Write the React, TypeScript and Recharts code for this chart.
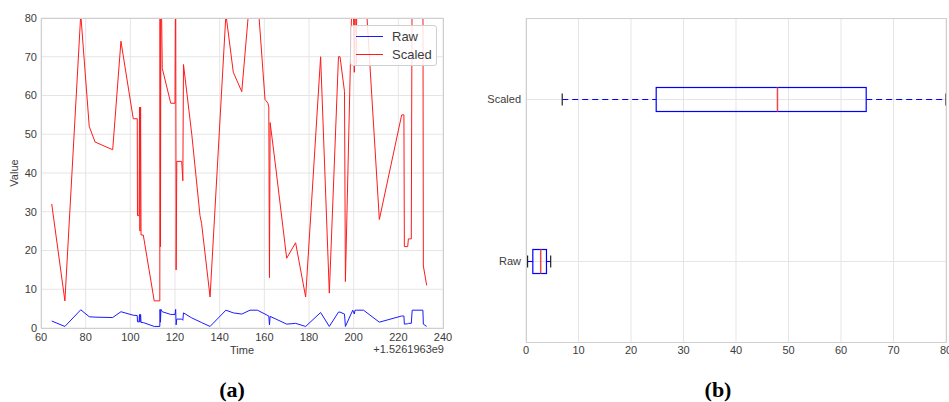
import React from 'react'
import { LineChart, Line, XAxis, YAxis, CartesianGrid, ComposedChart, Bar } from 'recharts'

// time offset from 1.5261963e9 (seconds)
const time = [
  64.8, 70.7, 77.8, 81.6, 84.2, 92.1, 95.8, 101.3, 103.1, 103.2, 103.9, 104.1, 104.3, 104.6, 104.8, 105.8,
  110.7, 113.2, 113.3, 113.5, 113.7, 114.3, 118.1, 120.0, 120.3, 120.5, 120.8, 123.0, 123.5, 123.8, 127.5,
  131.2, 131.9, 135.7, 142.8, 146.1, 149.9, 153.6, 156.9, 160.3, 161.6, 162.0, 162.3, 162.6, 165.2, 170.0,
  174.0, 178.5, 185.2, 189.1, 193.2, 193.9, 195.9, 196.3, 199.6, 200.3, 200.6, 201.2, 201.5, 204.4, 211.5,
  221.5, 222.5, 222.7, 224.2, 224.5, 225.8, 226.2, 231.0, 231.2, 232.7,
]
const rawValues = [
  1.8, 0.4, 4.7, 2.9, 2.8, 2.7, 4.2, 3.3, 3.2, 1.6, 1.6, 3.5, 1.5, 3.5, 1.4, 1.4,
  0.4, 0.4, 4.8, 1.5, 4.8, 4.2, 3.5, 3.5, 4.8, 0.8, 2.3, 2.3, 2.0, 3.9, 2.6,
  1.6, 1.4, 0.4, 4.6, 3.9, 3.6, 4.6, 4.6, 3.6, 3.2, 3.1, 0.8, 3.0, 2.3, 1.0,
  1.2, 0.4, 4.0, 0.4, 4.1, 4.1, 3.6, 0.4, 4.6, 3.6, 4.6, 4.6, 4.6, 4.6, 1.5,
  3.1, 3.1, 1.0, 1.1, 1.2, 1.2, 4.6, 4.6, 1.0, 0.4,
]
const scaledValues = [
  32, 7, 81, 52, 48, 46, 74, 54, 54, 29, 29, 57, 25, 57, 24, 24,
  7, 7, 95, 21, 95, 67, 58, 58, 95, 15, 43, 43, 38, 68, 50,
  29, 27, 8, 81, 66, 61, 86, 86, 59, 58, 57, 13, 53, 41, 18,
  22, 8, 70, 9, 70, 70, 61, 12, 95, 66, 95, 68, 95, 95, 28,
  55, 55, 21, 21, 23, 23, 95, 95, 16, 11,
]
const timeTicks = [60, 80, 100, 120, 140, 160, 180, 200, 220, 240]
const valueTicks = [0, 10, 20, 30, 40, 50, 60, 70, 80]

// boxplot stats
const boxLabels = ['Scaled', 'Raw']
const whiskerLow = [6.9, 0.3]
const quartile1 = [24.8, 1.3]
const medians = [47.9, 2.8]
const quartile3 = [64.8, 3.9]
const whiskerHigh = [80, 4.7]
const boxTicks = [0, 10, 20, 30, 40, 50, 60, 70, 80]

const FONT = '"Liberation Sans", Arial, sans-serif'
const GRID = '#e5e5e5'
const FRAME = '#cfcfcf'
const TEXT = '#3c3c3c'
const BLUE = '#1a1aff'
const RED = '#ff1a1a'

const lineData = time.map((t, i) => ({ t, raw: rawValues[i], scaled: scaledValues[i] }))
const boxData = boxLabels.map((name, i) => ({
  name,
  lo: whiskerLow[i],
  q1: quartile1[i],
  med: medians[i],
  q3: quartile3[i],
  hi: whiskerHigh[i],
}))

const tickStyle = { fontSize: 11, fill: TEXT, fontFamily: FONT }

// grid line through the middle of each category band (drawn under the box)
function BandLine(props: any) {
  const { x, y, width, height } = props
  const cy = Math.round(y + height / 2) + 0.5
  return <line x1={x} x2={x + width} y1={cy} y2={cy} stroke={GRID} strokeWidth={1} />
}

function BoxShape(props: any) {
  const { x, y, width, height, payload } = props
  const { lo, q1, med, q3, hi } = payload
  const k = width / (hi - lo)
  const px = (v: number) => x + (v - lo) * k
  const top = Math.round(y) + 0.5
  const h = Math.round(height)
  const cy = Math.round(y + height / 2) + 0.5
  const cap = 6
  return (
    <g>
      <line x1={px(lo)} x2={px(q1)} y1={cy} y2={cy} stroke="#0000ff" strokeWidth={1.1} strokeDasharray="6 4" />
      <line x1={px(q3)} x2={px(hi)} y1={cy} y2={cy} stroke="#0000ff" strokeWidth={1.1} strokeDasharray="6 4" />
      <line x1={px(lo)} x2={px(lo)} y1={cy - cap} y2={cy + cap} stroke="#222" strokeWidth={1.2} />
      <line x1={px(hi)} x2={px(hi)} y1={cy - cap} y2={cy + cap} stroke="#222" strokeWidth={1.2} />
      <rect x={px(q1)} y={top} width={px(q3) - px(q1)} height={h} fill="none" stroke="#0000ff" strokeWidth={1.2} />
      <line x1={px(med)} x2={px(med)} y1={top} y2={top + h} stroke="#f04848" strokeWidth={1.5} />
    </g>
  )
}

function Frame({ left, top, width, height }: { left: number, top: number, width: number, height: number }) {
  return (
    <div
      style={{
        position: 'absolute', left, top, width, height, boxSizing: 'border-box',
        border: `1px solid ${FRAME}`, pointerEvents: 'none',
      }}
    />
  )
}

function LegendBox() {
  const items = [
    { name: 'Raw', color: BLUE },
    { name: 'Scaled', color: RED },
  ]
  return (
    <div
      style={{
        position: 'absolute', left: 350, top: 25, width: 87, height: 41, boxSizing: 'border-box',
        border: `1px solid ${FRAME}`, borderRadius: 3, background: 'rgba(255,255,255,0.85)',
        fontFamily: FONT, fontSize: 13, color: TEXT,
      }}
    >
      {items.map((it, i) => (
        <div key={it.name} style={{ position: 'absolute', left: 5, top: 2 + i * 18, height: 17, display: 'flex', alignItems: 'center' }}>
          <div style={{ width: 27, height: 1, background: it.color }} />
          <span style={{ marginLeft: 9 }}>{it.name}</span>
        </div>
      ))}
    </div>
  )
}

export default function App() {
  return (
    <div style={{ position: 'absolute', left: 0, top: 0, width: 949, height: 402, background: '#fff', fontFamily: FONT }}>
      {/* (a) time series */}
      <div style={{ position: 'absolute', left: 0, top: 0 }}>
        <LineChart width={460} height={365} data={lineData} margin={{ top: 18, right: 17, bottom: 7, left: 0 }}>
          <CartesianGrid stroke={GRID} />
          <XAxis
            dataKey="t"
            type="number"
            domain={[60, 240]}
            ticks={timeTicks}
            axisLine={false}
            tickLine={false}
            tickSize={2}
            tickMargin={3}
            height={30}
            tick={tickStyle}
            interval={0}
          />
          <YAxis
            type="number"
            domain={[0, 80]}
            ticks={valueTicks}
            allowDataOverflow
            axisLine={false}
            tickLine={false}
            tickSize={2}
            tickMargin={2}
            width={41}
            tick={tickStyle}
            interval={0}
          />
          <Line dataKey="raw" type="linear" stroke={BLUE} strokeWidth={1} dot={false} isAnimationActive={false} />
          <Line dataKey="scaled" type="linear" stroke={RED} strokeWidth={1} dot={false} isAnimationActive={false} />
        </LineChart>
      </div>
      <Frame left={41} top={18} width={403} height={311} />
      <LegendBox />
      <div style={{ position: 'absolute', left: 4, top: 173, transform: 'translate(-50%, -50%) rotate(-90deg)', transformOrigin: 'center', marginLeft: 10, fontSize: 11, color: TEXT }}>
        Value
      </div>
      <div style={{ position: 'absolute', left: 242, top: 350, transform: 'translate(-50%, -50%)', fontSize: 11, color: TEXT }}>
        Time
      </div>
      <div style={{ position: 'absolute', right: 949 - 444, top: 349, transform: 'translateY(-50%)', fontSize: 11, color: TEXT }}>
        +1.5261963e9
      </div>

      {/* (b) boxplot */}
      <div style={{ position: 'absolute', left: 470, top: 0 }}>
        <ComposedChart width={479} height={372} data={boxData} layout="vertical" margin={{ top: 18, right: 3, bottom: 5, left: 0 }}>
          <CartesianGrid stroke={GRID} horizontal={false} />
          <XAxis
            type="number"
            domain={[0, 80]}
            ticks={boxTicks}
            axisLine={false}
            tickLine={false}
            tickSize={2}
            tickMargin={2}
            height={25}
            tick={tickStyle}
            interval={0}
          />
          <YAxis
            type="category"
            dataKey="name"
            axisLine={false}
            tickLine={false}
            tickSize={2}
            tickMargin={3}
            width={56}
            tick={tickStyle}
          />
          <Bar
            dataKey={(d: any) => [d.lo, d.hi]}
            barSize={24}
            fill="none"
            isAnimationActive={false}
            background={(p: any) => <BandLine {...p} />}
            shape={(p: any) => <BoxShape {...p} />}
          />
        </ComposedChart>
      </div>
      <Frame left={526} top={18} width={421} height={325} />

      <div style={{ position: 'absolute', left: 232, top: 390, transform: 'translate(-50%, -50%)', fontFamily: '"Liberation Serif", serif', fontWeight: 'bold', fontSize: 22, color: '#000' }}>
        (a)
      </div>
      <div style={{ position: 'absolute', left: 718, top: 390, transform: 'translate(-50%, -50%)', fontFamily: '"Liberation Serif", serif', fontWeight: 'bold', fontSize: 22, color: '#000' }}>
        (b)
      </div>
    </div>
  )
}
